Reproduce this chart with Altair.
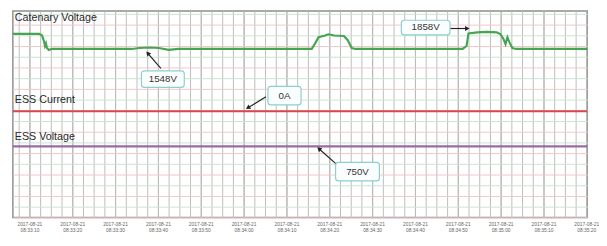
import math
import altair as alt
import pandas as pd

# ---------------- data ----------------
SPAN_S = 134.1          # seconds shown
FIRST_TICK = 3.86       # first labelled tick, seconds after the left edge

cat_t = [0, 6.14, 6.82, 7.27, 7.5, 7.73, 7.95, 8.41, 9.09, 27.73, 29.55, 31.82,
         34.09, 36.36, 38.64, 69.77, 70.45, 71.36, 72.73, 73.64, 75.0, 77.27,
         78.18, 79.09, 80.0, 105.0, 105.91, 106.36, 108.41, 110.68, 112.95,
         113.86, 114.55, 115.0, 115.45, 115.91, 116.59, 117.5, 134.1]
cat_v = [1830, 1830, 1800, 1690, 1603, 1650, 1566, 1530, 1548, 1548, 1566, 1575,
         1566, 1530, 1548, 1548, 1639, 1767, 1795, 1822, 1800, 1790, 1712, 1566,
         1548, 1548, 1603, 1840, 1858, 1867, 1858, 1822, 1730, 1639, 1767, 1676,
         1566, 1548, 1548]

cur_t = [0, 134.1]
cur_a = [0, 0]

ess_t = [0, 134.1]
ess_v = [750, 750]

series_names = ["Catenary Voltage", "ESS Current", "ESS Voltage"]

ann_series = ["cat", "cur", "ess", "cat"]
ann_t = [31.6, 55.0, 71.36, 105.91]
ann_v = [1548, 0, 750, 1858]
ann_label = ["1548V", "0A", "750V", "1858V"]

major_ticks = [FIRST_TICK + 10 * k for k in range(14)]
minor_ticks = [FIRST_TICK - 2.5 + 2.5 * k for k in range(55)]

# ---------------- styles ----------------
FONT = "Liberation Sans"
ann_style = {
    "1548V": dict(tip=(0, 5), tail=(13, 20), box=(15, 31, 44, 17)),
    "0A": dict(tip=(0, -4), tail=(18, -15), box=(37, -16, 34, 19)),
    "750V": dict(tip=(1, 3), tail=(18, 18), box=(40, 26, 45, 19)),
    "1858V": dict(tip=(0, -4), tail=(-19, -4), box=(-42, -5, 50, 15)),
}

xscale = alt.Scale(domain=[0, SPAN_S], nice=False, zero=False)

label_expr = (
    "[timeFormat(time(datetime(2017,7,21,8,33,6,140)) + datum.value*1000, '%Y-%m-%d'),"
    " timeFormat(time(datetime(2017,7,21,8,33,6,140)) + datum.value*1000, '%H:%M:%S')]"
)
major_axis = alt.Axis(
    values=major_ticks, grid=True, gridColor="#a4a4a4", gridWidth=1,
    ticks=False, domain=False, labelFont=FONT, labelFontSize=5,
    labelColor="#666", labelPadding=4, labelLineHeight=6,
    labelExpr=label_expr, title=None, labelFlush=False,
)
minor_axis = alt.Axis(
    values=minor_ticks, orient="top", grid=True, gridColor="#bcbcbc", gridWidth=1,
    ticks=False, domain=False, labels=False, title=None,
)

ydomains = {
    "cat": [-1608, 2259],
    "cur": [-1090, 1030],
    "ess": [385, 1445],
}
pink_axis = alt.Axis(values=list(range(-1600, 2201, 400)), grid=True, gridColor="#f1c6c6",
                     labels=False, ticks=False, domain=False, title=None)
green_axis = alt.Axis(values=list(range(-1400, 2201, 400)), grid=True, gridColor="#c8e4cf",
                      labels=False, ticks=False, domain=False, title=None, orient="right")

line_colors = {"cat": "#45a552", "cur": "#d8474b", "ess": "#9a6aa6"}


def X(axis):
    return alt.X("sec:Q", scale=xscale, axis=axis)


def Y(series, axis=None):
    return alt.Y("val:Q", scale=alt.Scale(domain=ydomains[series], nice=False, zero=False),
                 axis=axis)


def series_layer(series, t, v, name, label_dy, xaxis, yaxis):
    df = pd.DataFrame({"sec": t, "val": v})
    line = alt.Chart(df).mark_line(color=line_colors[series], strokeWidth=2.2).encode(
        x=X(xaxis), y=Y(series, yaxis))
    lab_df = pd.DataFrame({"sec": [t[0]], "val": [v[0]], "name": [name]})
    lab = alt.Chart(lab_df).mark_text(align="left", baseline="middle", dx=2, dy=label_dy,
                                      font=FONT, fontSize=11, color="#2a2a2a").encode(
        x=X(xaxis), y=Y(series, yaxis), text="name:N")
    marks = [line, lab]
    for s, tt, vv, lbl in zip(ann_series, ann_t, ann_v, ann_label):
        if s != series:
            continue
        st = ann_style[lbl]
        adf = pd.DataFrame({"sec": [tt], "val": [vv], "label": [lbl]})
        tipdx, tipdy = st["tip"]
        taildx, taildy = st["tail"]
        bdx, bdy, bw, bh = st["box"]
        enc = dict(x=X(xaxis), y=Y(series, yaxis))
        rule = alt.Chart(adf).mark_rule(
            color="#222", strokeWidth=1.2,
            xOffset=taildx, yOffset=taildy, x2Offset=tipdx, y2Offset=tipdy).encode(
            x2="sec:Q", y2="val:Q", **enc)
        ang = math.degrees(math.atan2(tipdx - taildx, -(tipdy - taildy))) % 360
        head = alt.Chart(adf).mark_point(
            shape="triangle", filled=True, color="#222", size=28, opacity=1,
            angle=ang, xOffset=tipdx, yOffset=tipdy).encode(**enc)
        box = alt.Chart(adf).mark_rect(
            fill="#fbfefe", stroke="#8ccfd0", strokeWidth=1.2, cornerRadius=3,
            xOffset=bdx - bw / 2, x2Offset=bdx + bw / 2,
            yOffset=bdy - bh / 2, y2Offset=bdy + bh / 2).encode(
            x2="sec:Q", y2="val:Q", **enc)
        txt = alt.Chart(adf).mark_text(
            font=FONT, fontSize=10, color="#333", dx=bdx, dy=bdy,
            baseline="middle", align="center").encode(text="label:N", **enc)
        marks += [rule, box, head, txt]
    return alt.layer(*marks)


# hidden layer carrying the green horizontal grid (same scale as catenary)
grid_df = pd.DataFrame({"sec": cat_t, "val": cat_v})
green_grid = alt.Chart(grid_df).mark_line(opacity=0).encode(
    x=X(None), y=Y("cat", green_axis))

cat_layer = series_layer("cat", cat_t, cat_v, series_names[0], -16, major_axis, pink_axis)
cur_layer = series_layer("cur", cur_t, cur_a, series_names[1], -11, minor_axis, None)
ess_layer = series_layer("ess", ess_t, ess_v, series_names[2], -10, None, None)

chart = alt.layer(green_grid, cat_layer, cur_layer, ess_layer).resolve_scale(
    y="independent"
).resolve_axis(x="independent", y="independent").properties(
    width=590, height=212, padding=0, background="white"
).configure_view(stroke="#8e8e8e", strokeWidth=1.5)

chart.save("out.html", embed_options={"renderer": "svg", "actions": False})
